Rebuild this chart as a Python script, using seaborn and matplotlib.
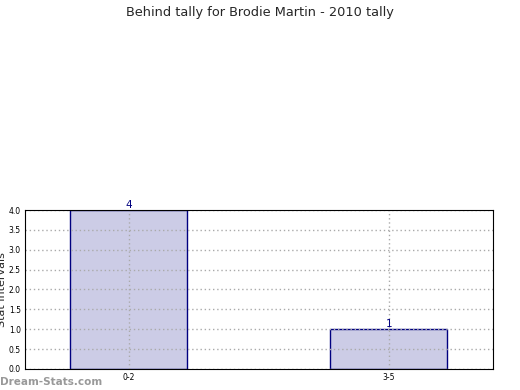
import matplotlib
matplotlib.use("Agg")
import matplotlib.pyplot as plt
import seaborn as sns
import pandas as pd

# Chart data
categories = ['0-2', '3-5']
counts = [4, 1]

df = pd.DataFrame({'Interval': categories, 'Count': counts})

sns.set_style('white')
plt.rcParams['font.family'] = ['DejaVu Sans']

fig = plt.figure(figsize=(5.2, 3.9), dpi=100)
ax = fig.add_axes([0.048, 0.054, 0.9, 0.4075])

sns.barplot(data=df, x='Interval', y='Count', ax=ax, width=0.45,
            color='#ccccE6', edgecolor='#000080', linewidth=1.0,
            saturation=1, zorder=2)

# bar value labels
for i, v in enumerate(counts):
    ax.text(i, v, str(v), ha='center', va='bottom', fontsize=7.5,
            color='#000080')

ax.set_xlim(-0.4, 1.4)
ax.set_ylim(0, 4)
ax.set_yticks([0, 0.5, 1.0, 1.5, 2.0, 2.5, 3.0, 3.5, 4.0])
ax.set_yticklabels(['0.0', '0.5', '1.0', '1.5', '2.0', '2.5', '3.0', '3.5', '4.0'])
ax.tick_params(axis='both', labelsize=5.5, length=2, direction='in', pad=3,
               colors='#000000')
ax.grid(True, linestyle=(0, (1, 2)), color='#aaaaaa', linewidth=1.0, zorder=3)
ax.set_axisbelow(False)
for s in ax.spines.values():
    s.set_color('black')
    s.set_linewidth(0.8)
    s.set_zorder(5)

ax.set_xlabel('Frequency', fontsize=8, labelpad=6)
ax.set_ylabel('Stat Intervals', fontsize=8, labelpad=1)

fig.suptitle('Behind tally for Brodie Martin - 2010 tally', fontsize=9.3,
             y=0.985)
fig.text(0.0, 0.012, 'Dream-Stats.com', fontsize=7.5, color='#999999',
         fontweight='bold')

fig.savefig('out.png', dpi=100)
